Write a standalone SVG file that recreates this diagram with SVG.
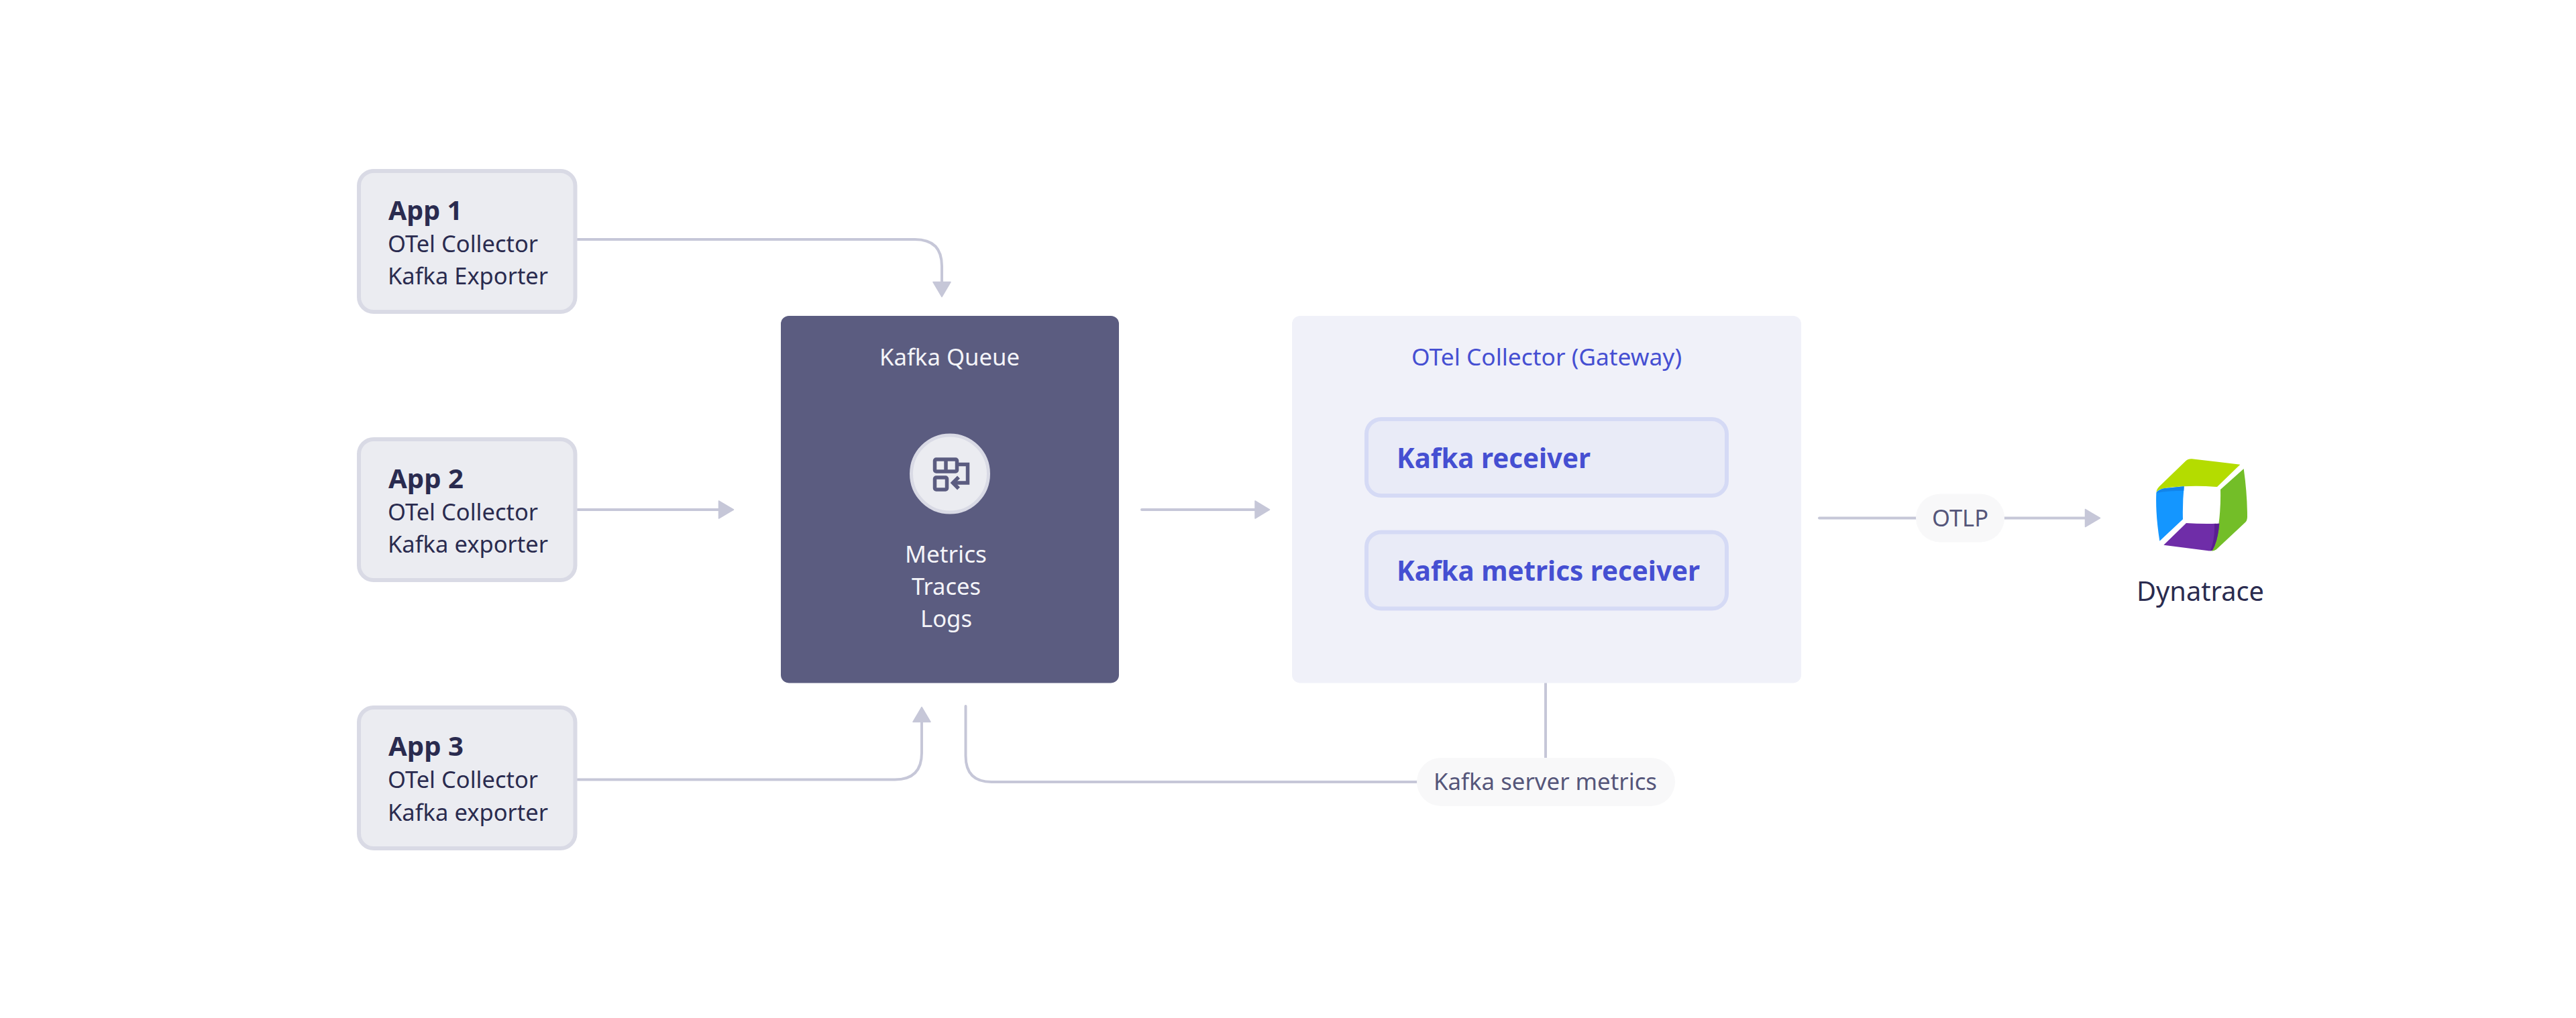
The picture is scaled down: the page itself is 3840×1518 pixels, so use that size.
<svg xmlns="http://www.w3.org/2000/svg" width="3840" height="1518" viewBox="0 0 3840 1518">
<style>
text{font-family:"Noto Sans","Open Sans",sans-serif;font-size:35px;fill:#2a2b4f}
.t{font-size:40px;font-weight:700}
.box{fill:#ebecf1;stroke:#d9dae5;stroke-width:6}
.rc{fill:#e9ebf7;stroke:#d5daf5;stroke-width:6}
.blue{fill:#454fd2}
.rb{font-size:41px;font-weight:700;fill:#454fd2}
.w{fill:#f4f4f8}
.pill{fill:#f8f8f9}
.pt{fill:#55567a}
.ln{fill:none;stroke:#c6c7d8;stroke-width:4;stroke-linecap:round}
.ar{fill:#c6c7d8;stroke:#c6c7d8;stroke-width:1.500;stroke-linejoin:round}
.ic{fill:none;stroke:#5b5c80;stroke-width:5.500}
</style>
<rect width="3840" height="1518" fill="#fff"/>
<g id="connectors">
<path class="ln" d="M861 357H1364Q1404 357 1404 397V425"/><path class="ar" d="M1391 420.500H1417L1404 442.500Z"/>
<path class="ln" d="M861 760H1075"/><path class="ar" d="M1071.500 747V773L1093.500 760Z"/>
<path class="ln" d="M861 1162.500H1334Q1374 1162.500 1374 1122.500V1070"/><path class="ar" d="M1361 1076.500H1387L1374 1054.500Z"/>
<path class="ln" d="M1702 760H1875"/><path class="ar" d="M1871 747V773L1892.500 760Z"/>
<path class="ln" d="M2304 1019V1132"/>
<path class="ln" d="M1439.500 1053V1127Q1439.500 1166 1478 1166H2114"/>
<path class="ln" d="M2712 772.500H2858"/>
<path class="ln" d="M2988 772.500H3112"/><path class="ar" d="M3108.500 759.500V785.500L3130.500 772.500Z"/>
</g>
<g id="app1"><rect class="box" x="535" y="255" width="322.500" height="210" rx="22"/><text class="t" x="579" y="328" textLength="110" lengthAdjust="spacingAndGlyphs">App 1</text><text x="578" y="376" textLength="224" lengthAdjust="spacingAndGlyphs">OTel Collector</text><text x="578" y="424" textLength="239" lengthAdjust="spacingAndGlyphs">Kafka Exporter</text></g>
<g id="app2"><rect class="box" x="535" y="655" width="322.500" height="210" rx="22"/><text class="t" x="579" y="728" textLength="112" lengthAdjust="spacingAndGlyphs">App 2</text><text x="578" y="776" textLength="224" lengthAdjust="spacingAndGlyphs">OTel Collector</text><text x="578" y="824" textLength="239" lengthAdjust="spacingAndGlyphs">Kafka exporter</text></g>
<g id="app3"><rect class="box" x="535" y="1055" width="322.500" height="210" rx="22"/><text class="t" x="579" y="1127" textLength="112" lengthAdjust="spacingAndGlyphs">App 3</text><text x="578" y="1175" textLength="224" lengthAdjust="spacingAndGlyphs">OTel Collector</text><text x="578" y="1224" textLength="239" lengthAdjust="spacingAndGlyphs">Kafka exporter</text></g>
<g id="kafka-queue"><rect x="1164" y="471" width="504" height="547.500" rx="12" fill="#5b5c80"/><text class="w" x="1311" y="544.500" textLength="209" lengthAdjust="spacingAndGlyphs">Kafka Queue</text>
<g transform="translate(0 1.500)"><circle cx="1416" cy="705" r="57.500" fill="#ebecf1" stroke="#d9dae5" stroke-width="5"/>
<g class="ic"><rect x="1393.500" y="683.500" width="33" height="18" rx="2"/><path d="M1410 683.500V701.500"/><rect x="1393.500" y="710.500" width="18" height="18" rx="2"/><path d="M1427 691H1442.500V718.500H1421"/><path d="M1429 710L1420.500 718.500L1429 727"/></g></g>
<text class="w" x="1349" y="839" textLength="122" lengthAdjust="spacingAndGlyphs">Metrics</text><text class="w" x="1359" y="887" textLength="103" lengthAdjust="spacingAndGlyphs">Traces</text><text class="w" x="1372" y="935" textLength="77" lengthAdjust="spacingAndGlyphs">Logs</text></g>
<g id="gateway"><rect x="1926" y="471" width="759" height="547.500" rx="12" fill="#f0f1f9"/><text class="blue" x="2104" y="544.500" textLength="403" lengthAdjust="spacingAndGlyphs">OTel Collector (Gateway)</text></g>
<g id="kafka-receiver"><rect class="rc" x="2037" y="625" width="537" height="114" rx="22"/><text class="rb" x="2082" y="698" textLength="289" lengthAdjust="spacingAndGlyphs">Kafka receiver</text></g>
<g id="kafka-metrics-receiver"><rect class="rc" x="2037" y="793.500" width="537" height="114" rx="22"/><text class="rb" x="2082" y="866" textLength="452" lengthAdjust="spacingAndGlyphs">Kafka metrics receiver</text></g>
<g id="kafka-server-metrics"><rect class="pill" x="2112" y="1130" width="385" height="72" rx="36"/><text class="pt" x="2137" y="1178" textLength="333" lengthAdjust="spacingAndGlyphs">Kafka server metrics</text></g>
<g id="otlp"><rect class="pill" x="2856" y="736.500" width="132" height="72" rx="36"/><text class="pt" x="2880" y="785" textLength="84" lengthAdjust="spacingAndGlyphs">OTLP</text></g>
<g id="dynatrace">
<g transform="translate(3120 650) scale(.33333)">
<path fill="#b4dc00" d="M283 252Q284 240 297 226L415 112Q425 102 442 103L658 128L555 228Q470 222 405 226Q335 229 305 238Q288 244 283 252Z"/>
<path fill="#1496ff" d="M283 255Q290 242 318 235L407 226Q400 300 402 373L298 470Q279 350 283 255Z"/>
<path fill="#1284ea" d="M283 255Q290 242 318 235L407 226L406 245Q340 245 283 255Z"/>
<path fill="#73be28" d="M674 147Q690 260 690 362Q690 378 680 388L555 505Q545 515 530 515Q555 480 562 395Q572 320 570 240Z"/>
<path fill="#6f2da8" d="M316 488L417 390Q490 395 565 392Q558 470 535 510Q530 515 515 514Z"/>
<path fill="#591f91" d="M543 393L565 392Q558 470 535 510Q530 515 525 514Q546 460 543 393Z"/>
</g>
<text x="3185" y="896" style="font-size:40px" textLength="190" lengthAdjust="spacingAndGlyphs">Dynatrace</text></g>
</svg>
